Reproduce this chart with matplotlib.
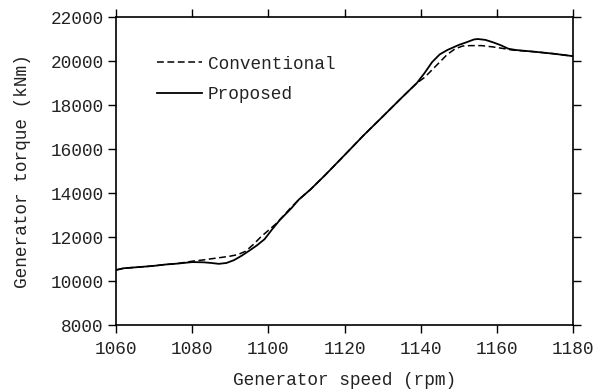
import numpy as np
import matplotlib
matplotlib.use('Agg')
import matplotlib.pyplot as plt

# generator speed (rpm) / torque (kNm)
speed_prop = [1060, 1062, 1065, 1068, 1070, 1073, 1076, 1080, 1083, 1085, 1087, 1089,
              1091, 1093, 1095, 1097, 1099, 1101, 1103, 1106, 1108, 1111, 1115, 1120,
              1125, 1130, 1135, 1139, 1141, 1143, 1145, 1147, 1150, 1152, 1154, 1155,
              1157, 1159, 1161, 1163, 1165, 1170, 1175, 1180]
torque_prop = [10500, 10580, 10620, 10660, 10690, 10750, 10790, 10860, 10850, 10820, 10780, 10820,
               10950, 11150, 11380, 11620, 11900, 12350, 12770, 13300, 13700, 14150, 14830, 15720,
               16620, 17470, 18330, 19000, 19450, 19950, 20300, 20500, 20730, 20850, 20980, 21000,
               20960, 20850, 20720, 20560, 20500, 20420, 20330, 20220]

speed_conv = [1060, 1062, 1065, 1068, 1070, 1073, 1076, 1080, 1083, 1085, 1088, 1090,
              1092, 1094, 1096, 1098, 1100, 1102, 1104, 1106, 1108, 1111, 1115, 1120,
              1125, 1130, 1135, 1139, 1141, 1143, 1145, 1147, 1149, 1151, 1153, 1156,
              1159, 1162, 1164, 1170, 1175, 1180]
torque_conv = [10500, 10580, 10620, 10660, 10690, 10750, 10790, 10900, 10960, 11010, 11080, 11130,
               11200, 11350, 11650, 12000, 12300, 12600, 12970, 13350, 13700, 14150, 14830, 15720,
               16620, 17470, 18330, 19000, 19250, 19600, 19950, 20300, 20550, 20680, 20700, 20700,
               20640, 20560, 20500, 20420, 20330, 20220]

xticks = [1060, 1080, 1100, 1120, 1140, 1160, 1180]
yticks = [8000, 10000, 12000, 14000, 16000, 18000, 20000, 22000]

plt.rcParams['font.family'] = ['Liberation Mono', 'DejaVu Sans Mono']
fs = 12.8

fig = plt.figure(figsize=(6.09, 3.92), dpi=100)
ax = fig.add_axes([0.1905, 0.1709, 0.7504, 0.7857])

ax.plot(speed_conv, torque_conv, color='black', lw=1.1, linestyle=(0, (4.5, 2.3)), label='Conventional')
ax.plot(speed_prop, torque_prop, color='black', lw=1.3, label='Proposed')

ax.set_xlim(1060, 1180)
ax.set_ylim(8000, 22000)
ax.set_xticks(xticks)
ax.set_yticks(yticks)
ax.tick_params(which='both', direction='out', length=5.8, width=1.0, labelsize=fs,
               top=True, right=True, color='black', labelcolor='#222222')
ax.tick_params(axis='x', pad=6)
ax.tick_params(axis='y', pad=3)
for s in ax.spines.values():
    s.set_linewidth(1.2)

ax.set_xlabel('Generator speed (rpm)', fontsize=fs, labelpad=10, color='#222222')
ax.set_ylabel('Generator torque (kNm)', fontsize=fs, labelpad=14, color='#222222')

leg = ax.legend(loc='upper left', bbox_to_anchor=(0.09, 0.875), frameon=False, fontsize=fs,
                handlelength=2.55, handletextpad=0.3, labelspacing=0.75, borderpad=0, borderaxespad=0)
for t in leg.get_texts():
    t.set_color('#222222')

fig.savefig('out.png', dpi=100)
